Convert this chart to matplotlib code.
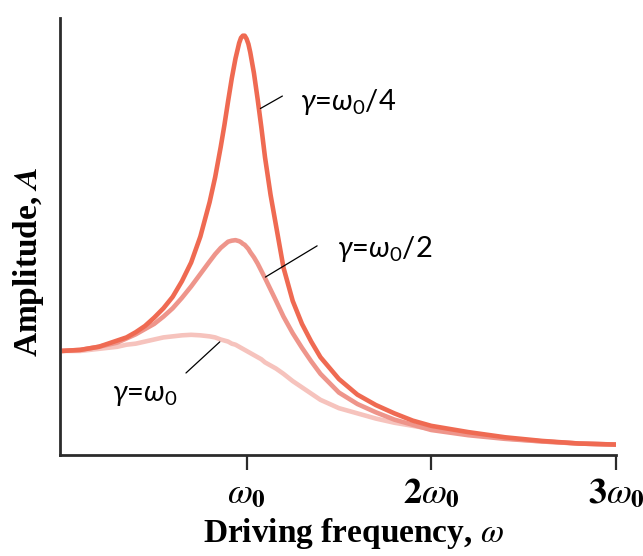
import matplotlib
matplotlib.use("Agg")
import matplotlib.pyplot as plt

# driving frequency in units of omega_0, amplitude in units of the static amplitude
omega = [0, 0.1, 0.2, 0.3, 0.35, 0.4, 0.45, 0.5, 0.55, 0.6, 0.65, 0.7, 0.75, 0.8, 0.83, 0.86,
         0.88, 0.9, 0.92, 0.94, 0.96, 0.97, 0.98, 0.99, 1.0, 1.01, 1.02, 1.04, 1.06, 1.08, 1.1,
         1.13, 1.16, 1.2, 1.25, 1.3, 1.35, 1.4, 1.5, 1.6, 1.7, 1.8, 1.9, 2.0, 2.2, 2.4, 2.6,
         2.8, 3.0]

amp_quarter = [1.00, 1.01, 1.04, 1.10, 1.13, 1.18, 1.24, 1.32, 1.41, 1.52, 1.67, 1.85, 2.10,
               2.43, 2.67, 2.96, 3.17, 3.40, 3.62, 3.81, 3.96, 4.01, 4.03, 4.03, 4.00, 3.95,
               3.87, 3.67, 3.42, 3.15, 2.86, 2.50, 2.20, 1.80, 1.48, 1.26, 1.09, 0.94, 0.73,
               0.58, 0.48, 0.40, 0.33, 0.28, 0.22, 0.17, 0.135, 0.11, 0.10]

amp_half = [1.00, 1.01, 1.04, 1.08, 1.12, 1.16, 1.21, 1.26, 1.33, 1.41, 1.51, 1.62, 1.74,
            1.86, 1.93, 1.99, 2.02, 2.05, 2.06, 2.065, 2.055, 2.045, 2.03, 2.02, 2.00, 1.98,
            1.95, 1.90, 1.84, 1.77, 1.70, 1.59, 1.48, 1.33, 1.17, 1.03, 0.90, 0.78, 0.60,
            0.49, 0.41, 0.34, 0.29, 0.24, 0.19, 0.155, 0.13, 0.11, 0.10]

amp_one = [1.00, 1.00, 1.02, 1.04, 1.06, 1.07, 1.09, 1.11, 1.13, 1.14, 1.15, 1.155, 1.15,
           1.14, 1.13, 1.11, 1.10, 1.09, 1.07, 1.06, 1.04, 1.03, 1.02, 1.01, 1.00, 0.99,
           0.98, 0.96, 0.94, 0.92, 0.89, 0.86, 0.83, 0.78, 0.71, 0.65, 0.59, 0.53, 0.45,
           0.40, 0.35, 0.31, 0.28, 0.25, 0.20, 0.16, 0.13, 0.11, 0.10]

tick_pos = [1, 2, 3]
tick_labels = [r'$\omega_{\mathbf{0}}$', r'$\mathbf{2}\omega_{\mathbf{0}}$', r'$\mathbf{3}\omega_{\mathbf{0}}$']

# annotation font (Calibri-like sans)
plt.rcParams['mathtext.fontset'] = 'custom'
plt.rcParams['mathtext.rm'] = 'Lato'
plt.rcParams['mathtext.it'] = 'Lato:italic'
plt.rcParams['mathtext.bf'] = 'Lato:bold'

fig = plt.figure(figsize=(6.43, 5.56), dpi=100)
ax = fig.add_axes([0.0933, 0.1817, 0.8647, 0.7859])

style = dict(lw=3.3, solid_capstyle='butt', solid_joinstyle='round')
ax.plot(omega, amp_one, color='#F6C3BD', **style)
ax.plot(omega, amp_half, color='#EE958B', **style)
ax.plot(omega, amp_quarter, color='#EF6A52', **style)

ax.set_xlim(-0.01, 3)
ax.set_ylim(0, 4.2)

for side in ['top', 'right']:
    ax.spines[side].set_visible(False)
for side in ['left', 'bottom']:
    ax.spines[side].set_color('#2b2b2b')
    ax.spines[side].set_linewidth(2.0)

ax.set_yticks([])
ax.set_xticks(tick_pos)
ax.set_xticklabels(tick_labels, fontsize=26, math_fontfamily='stix')
ax.tick_params(axis='x', direction='out', length=11, width=1.6, color='#2b2b2b', pad=4)

ax.set_xlabel(r'Driving frequency, $\omega$', fontsize=24, fontweight='bold',
              family='Liberation Serif', math_fontfamily='stix')
ax.set_ylabel(r'Amplitude, $\mathbfit{A}$', fontsize=24, fontweight='bold',
              family='Liberation Serif', math_fontfamily='stix')
ax.xaxis.set_label_coords(0.527, -0.14)
ax.yaxis.set_label_coords(-0.025, 0.442)

# labels with leader lines
line_kw = dict(arrowstyle='-', color='black', lw=0.9, shrinkA=0, shrinkB=0)
ax.annotate('', xy=(1.075, 3.33), xytext=(1.194, 3.45), arrowprops=line_kw)
ax.annotate('', xy=(1.102, 1.71), xytext=(1.382, 2.01), arrowprops=line_kw)
ax.annotate('', xy=(0.855, 1.087), xytext=(0.672, 0.788), arrowprops=line_kw)

txt_kw = dict(fontsize=21, family='Lato', va='center', ha='left', math_fontfamily='custom')
ax.text(1.29, 3.39, r'$\mathit{\gamma}$=$\mathit{\omega}_0$/4', **txt_kw)
ax.text(1.49, 1.98, r'$\mathit{\gamma}$=$\mathit{\omega}_0$/2', **txt_kw)
ax.text(0.27, 0.58, r'$\mathit{\gamma}$=$\mathit{\omega}_0$', **txt_kw)

plt.savefig('out.png', dpi=100)
